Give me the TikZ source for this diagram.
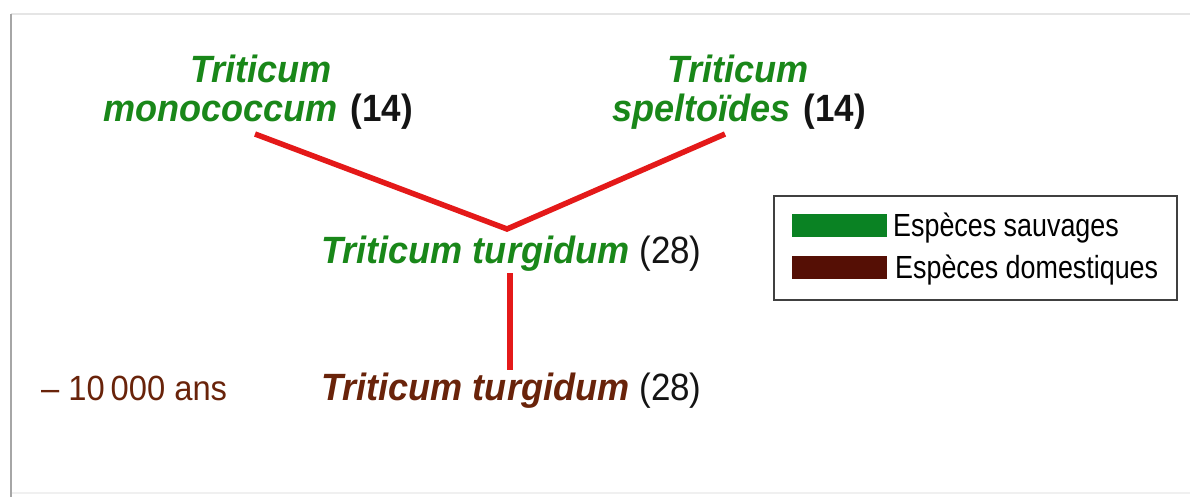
\documentclass[tikz,border=0pt]{standalone}
\usepackage{fontspec}
\setmainfont{Liberation Sans}
\newfontfamily\namefont{Liberation Sans}[FakeStretch=0.95]
\newfontfamily\numfont{Liberation Sans}[FakeStretch=0.92]
\newfontfamily\legfont{Liberation Sans}[FakeStretch=0.84]
\newfontfamily\datefont{Liberation Sans}[FakeStretch=0.935]
\definecolor{wildgreen}{RGB}{25,135,25}
\definecolor{dombrown}{RGB}{105,35,10}
\definecolor{swgreen}{RGB}{10,130,35}
\definecolor{swbrown}{RGB}{85,15,5}
\definecolor{linered}{RGB}{228,25,25}
\definecolor{numblack}{RGB}{20,20,20}
\tikzset{
  txt/.style={inner sep=0pt, anchor=base west},
  wild/.style={txt, text=wildgreen, font=\namefont\fontsize{38}{40}\selectfont\bfseries\itshape},
  dom/.style={txt, text=dombrown, font=\namefont\fontsize{38}{40}\selectfont\bfseries\itshape},
  branch/.style={draw=linered, line width=5.5pt},
  legtxt/.style={txt, text=black, font=\legfont\fontsize{32}{34}\selectfont},
}
\newcommand{\chromo}[1]{{\color{numblack}\numfont\mdseries\upshape #1}}
\newcommand{\chromob}[1]{{\color{numblack}\numfont\bfseries\upshape\hspace{3pt}#1}}
\begin{document}
\begin{tikzpicture}[x=1pt,y=-1pt]
\useasboundingbox (0,0) rectangle (1190,496);
\fill[white] (0,0) rectangle (1190,496);
% frame
\draw[black!10, line width=1.5pt] (11,14) -- (1192,14);
\draw[black!6, line width=1.5pt] (11,493) -- (1192,493);
\draw[black!35, line width=2.5pt] (11,14) -- (11,497);
% species nodes
\node[wild] (mono1) at (190,82) {Triticum};
\node[wild] (mono2) at (103,121) {monococcum \chromob{(14)}};
\node[wild] (spel1) at (667,82) {Triticum};
\node[wild] (spel2) at (612,121) {speltoïdes \chromob{(14)}};
\node[wild] (turg) at (321,263) {Triticum turgidum \chromo{(28)}};
\node[dom] (turgd) at (321,400) {Triticum turgidum \chromo{(28)}};
\node[txt, text=dombrown, font=\datefont\fontsize{35}{37}\selectfont] (date) at (41,400) {– 10\,000 ans};
% branches
\coordinate (ma) at (255,134);
\coordinate (sa) at (725,134);
\coordinate (j) at (507,229);
\coordinate (ta) at (510,273);
\coordinate (tb) at (510,370);
\draw[branch] (ma) -- (j) -- (sa);
\draw[branch] (ta) -- (tb);
% legend
\node[draw=black!75, line width=2pt, minimum width=403pt, minimum height=104pt, inner sep=0pt, anchor=north west] (legend) at (773,195) {};
\node[fill=swgreen, minimum width=95pt, minimum height=23pt, inner sep=0pt, anchor=north west] (swg) at (792,214) {};
\node[fill=swbrown, minimum width=95pt, minimum height=23pt, inner sep=0pt, anchor=north west] (swb) at (792,256) {};
\node[legtxt] (lg1) at (893,236) {Espèces sauvages};
\node[legtxt] (lg2) at (895,278) {Espèces domestiques};
\end{tikzpicture}
\end{document}
